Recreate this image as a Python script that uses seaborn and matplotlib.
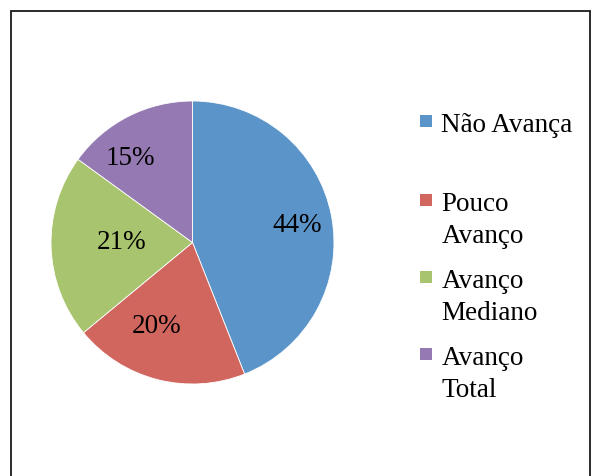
import matplotlib
matplotlib.use("Agg")
import matplotlib.pyplot as plt
from matplotlib.patches import Rectangle
import seaborn as sns

# dados do gráfico
categorias = ["Não Avança", "Pouco\nAvanço", "Avanço\nMediano", "Avanço\nTotal"]
valores = [44, 20, 21, 15]
cores = ["#5B94C9", "#D1665F", "#A9C46F", "#9579B2"]

# posição dos rótulos de percentual (em raios do gráfico), como no original
pos_rotulos = [(0.74, 0.13), (-0.255, -0.59), (-0.50, 0.01), (-0.44, 0.60)]

sns.set_theme(style="white")
plt.rcParams["font.family"] = ["Liberation Serif", "DejaVu Serif"]
fs = 19.5

W, H = 592, 477
fig = plt.figure(figsize=(W / 100, H / 100), dpi=100)
fig.patch.set_facecolor("white")

# moldura
fig.patches.append(Rectangle((10.5 / W, -0.05), (590 - 10.5) / W, (H - 12) / H + 0.05,
                             transform=fig.transFigure, fill=False,
                             edgecolor="#1a1a1a", linewidth=1.3))

cx, cy, r = 192.5, 243.5, 141.5
ax = fig.add_axes([(cx - r) / W, (H - cy - r) / H, 2 * r / W, 2 * r / H])
ax.pie(valores, colors=cores, startangle=90, counterclock=False,
       wedgeprops=dict(edgecolor="white", linewidth=0.6))
ax.set_xlim(-1, 1)
ax.set_ylim(-1, 1)
ax.set_aspect("equal")
ax.axis("off")

total = sum(valores)
for v, (x, y) in zip(valores, pos_rotulos):
    ax.text(x, y, f"{round(100 * v / total)}%", ha="center", va="center",
            fontsize=fs, color="black")

# legenda manual (marcador alinhado com a primeira linha)
y_marc = [122, 201, 278, 355]
for lab, cor, ym in zip(categorias, cores, y_marc):
    fig.patches.append(Rectangle((420 / W, (H - ym - 6) / H), 12 / W, 12 / H,
                                 transform=fig.transFigure, facecolor=cor,
                                 edgecolor="none"))
    for i, linha in enumerate(lab.split("\n")):
        fig.text(441.5 / W, (H - ym - 10 - 31.7 * i) / H, linha, ha="left",
                 va="baseline", fontsize=fs, color="black")

fig.savefig("out.png", dpi=100)
